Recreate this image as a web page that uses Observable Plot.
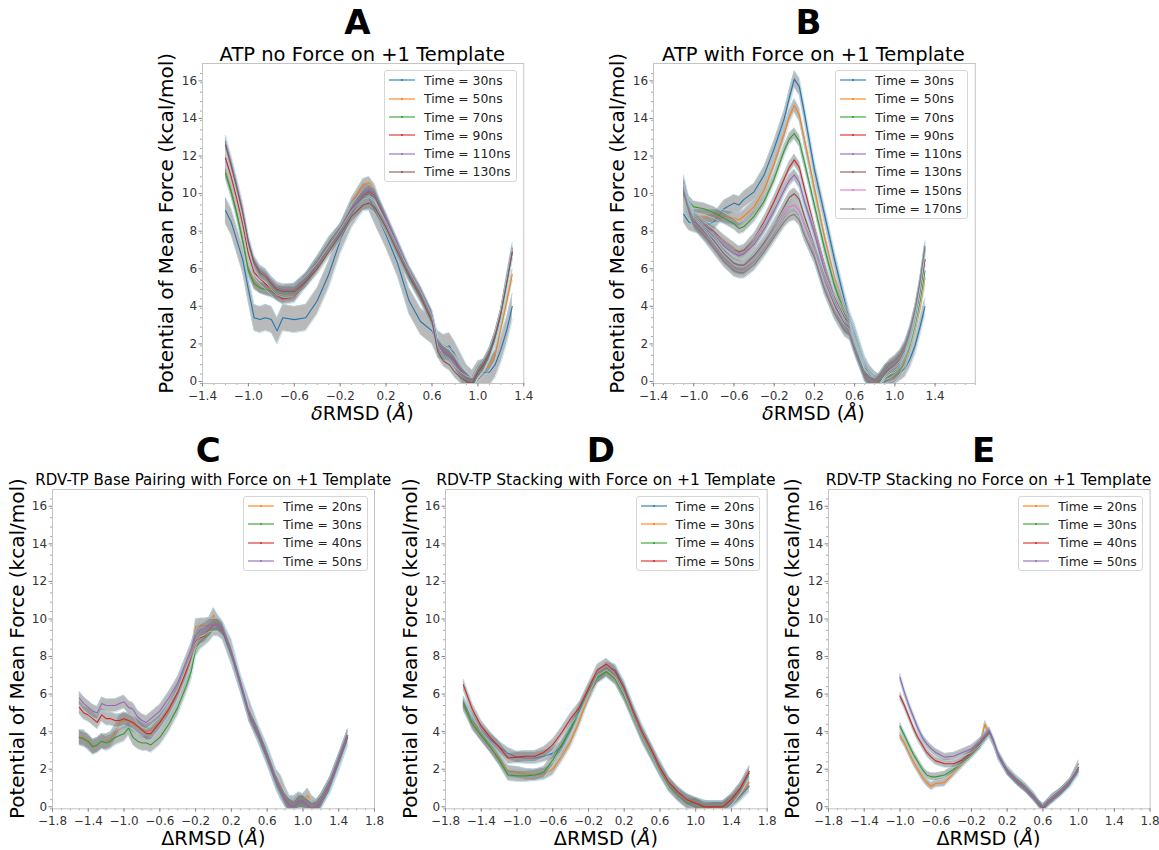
<!DOCTYPE html>
<html><head><meta charset="utf-8">
<script src="https://cdn.jsdelivr.net/npm/d3@7"></script>
<script src="https://cdn.jsdelivr.net/npm/@observablehq/plot@0.6"></script>
<style>
body{margin:0;background:#fff;}
#root{position:relative;width:1159px;height:850px;overflow:hidden;font-family:"DejaVu Sans",sans-serif;background:#fff;}
#root svg.plotsvg{position:absolute;background:transparent;overflow:visible;max-width:none;}
.legend{position:absolute;border:1px solid #d6d6d6;border-radius:3px;background:rgba(255,255,255,0.85);padding:0 5px 0 4px;font-size:12.4px;color:#222;z-index:3;}
.legend .row{display:flex;align-items:center;height:18.3px;white-space:nowrap;}
.legend svg{margin-right:9px;display:block;}
#overlay{position:absolute;left:0;top:0;z-index:4;pointer-events:none;}
</style></head>
<body><div id="root"></div>
<script>
// ---------------- data ----------------
const xTicksAB = [-1.4,-1.0,-0.6,-0.2,0.2,0.6,1.0,1.4];
const xTicksCDE = [-1.8,-1.4,-1.0,-0.6,-0.2,0.2,0.6,1.0,1.4,1.8];
const yTicks = [0,2,4,6,8,10,12,14,16];

// Panel A: ATP no Force
const xA = [-1.2,-1.15,-1.1,-1.05,-1.0,-0.95,-0.9,-0.85,-0.8,-0.75,-0.7,-0.6,-0.5,-0.4,-0.3,-0.2,-0.1,0.0,0.05,0.1,0.2,0.3,0.4,0.5,0.6,0.65,0.7,0.75,0.8,0.85,0.9,0.95,1.0,1.05,1.1,1.15,1.2,1.25,1.3];
const labelsA = ["Time = 30ns","Time = 50ns","Time = 70ns","Time = 90ns","Time = 110ns","Time = 130ns"];
const A30  = [9.2,8.6,7.6,6.6,5.0,3.5,3.4,3.5,3.4,2.8,3.5,3.4,3.5,4.4,5.8,7.6,9.0,9.9,9.9,9.2,7.9,6.4,4.4,3.3,2.8,2.1,1.9,2.0,1.5,0.9,0.3,0.0,0.5,0.6,0.6,1.0,1.8,2.8,4.1];
const A50  = [11.4,10.4,9.2,7.8,6.2,5.4,5.1,5.0,4.9,4.8,4.9,5.05,5.6,6.5,7.5,8.2,9.6,10.6,10.7,10.3,8.5,7.1,5.8,4.8,3.5,2.2,1.8,1.6,1.4,0.8,0.3,0.0,0.4,0.7,1.0,1.5,2.9,4.3,5.8];
const A70  = [11.2,10.2,9.0,7.6,6.0,5.3,5.1,5.0,4.9,4.7,4.6,4.7,5.5,6.4,7.3,8.2,9.3,10.0,10.1,9.9,8.6,7.2,5.8,4.7,3.5,2.0,1.7,1.5,1.2,0.7,0.3,0.0,0.6,0.9,1.5,2.3,3.5,5.2,7.0];
const A90  = [12.0,11.0,9.8,8.5,6.9,5.9,5.6,5.3,5.0,4.7,4.5,4.6,5.4,6.3,7.3,8.2,9.3,10.0,10.2,10.0,8.7,7.3,5.9,4.8,3.6,2.1,1.7,1.5,1.2,0.7,0.3,0.0,0.6,1.0,1.6,2.5,3.7,5.5,7.2];
const A110 = [12.9,11.8,10.6,9.3,7.6,6.5,6.0,5.8,5.4,5.1,5.0,5.0,5.6,6.4,7.3,8.1,9.2,10.1,10.3,10.1,8.8,7.4,6.0,4.9,3.6,2.1,1.7,1.5,1.1,0.6,0.3,0.0,0.6,1.0,1.6,2.5,3.7,5.3,7.0];
const A130 = [12.7,11.6,10.4,9.1,7.5,6.4,5.9,5.7,5.3,5.0,4.9,4.9,5.4,6.1,7.0,7.9,8.9,9.5,9.6,9.4,8.3,7.0,5.7,4.6,3.3,1.7,1.2,1.0,0.6,0.3,0.1,0.0,0.6,1.0,1.6,2.5,3.7,5.3,7.0];
const errA = [0.7,0.3,0.3,0.3,0.3,0.3];

// Panel B: ATP with Force
const xB = [-1.1,-1.05,-1.0,-0.9,-0.8,-0.7,-0.6,-0.55,-0.5,-0.4,-0.3,-0.2,-0.1,-0.05,0.0,0.05,0.1,0.2,0.3,0.4,0.5,0.55,0.6,0.7,0.75,0.8,0.85,0.9,0.95,1.0,1.05,1.1,1.15,1.2,1.25,1.3];
const labelsB = ["Time = 30ns","Time = 50ns","Time = 70ns","Time = 90ns","Time = 110ns","Time = 130ns","Time = 150ns","Time = 170ns"];
const B30  = [9.0,8.6,8.5,8.4,8.6,9.3,9.6,9.5,9.8,10.2,11.1,12.5,14.1,15.2,16.2,15.8,14.4,11.4,9.0,6.6,4.4,3.4,2.7,1.0,0.5,0.2,0.0,0.1,0.3,0.4,0.6,0.8,1.3,2.0,3.0,4.1];
const B50  = [9.8,9.1,8.9,8.9,8.9,8.9,8.8,8.7,8.9,9.4,10.3,11.7,13.3,14.2,14.8,14.3,13.0,10.4,7.8,5.6,3.9,3.3,2.5,0.9,0.4,0.1,0.0,0.2,0.3,0.4,0.7,1.1,1.9,2.8,4.0,5.6];
const B70  = [10.2,9.7,9.4,9.3,9.1,8.8,8.5,8.25,8.35,8.9,9.7,10.9,12.4,13.0,13.3,12.9,11.8,9.5,7.2,5.2,3.7,3.2,2.4,0.8,0.4,0.1,0.0,0.3,0.4,0.5,0.8,1.3,2.1,3.1,4.4,6.0];
const B90  = [10.2,9.3,8.9,8.4,8.1,7.6,7.2,7.0,7.1,7.7,8.6,9.7,10.9,11.5,11.9,11.5,10.4,8.3,6.3,4.6,3.5,3.1,2.2,0.7,0.3,0.0,0.1,0.5,0.6,0.8,1.1,1.6,2.4,3.5,4.9,6.6];
const B110 = [10.8,9.6,8.8,8.3,7.9,7.3,6.9,6.8,6.9,7.4,8.2,9.2,10.3,10.8,11.1,10.7,9.7,8.0,6.0,4.4,3.3,3.0,2.1,0.6,0.3,0.0,0.2,0.6,0.8,0.9,1.2,1.8,2.6,3.7,5.2,7.1];
const B130 = [10.5,9.4,8.7,8.1,7.6,6.9,6.4,6.3,6.3,6.8,7.5,8.4,9.4,9.9,10.1,9.8,8.9,7.3,5.6,4.2,3.1,2.9,2.0,0.5,0.2,0.0,0.2,0.6,0.8,1.0,1.3,1.8,2.5,3.5,4.9,6.6];
const B150 = [10.3,9.3,8.6,8.0,7.4,6.7,6.2,6.1,6.1,6.6,7.3,8.1,9.0,9.4,9.5,9.2,8.4,7.0,5.3,4.0,3.0,2.8,1.9,0.4,0.2,0.0,0.3,0.7,0.9,1.1,1.4,1.9,2.7,3.8,5.3,7.2];
const B170 = [10.2,9.2,8.5,7.9,7.2,6.5,6.0,5.9,5.9,6.3,7.0,7.8,8.6,8.9,9.0,8.7,7.9,6.7,5.0,3.7,2.8,2.6,1.8,0.4,0.1,0.0,0.3,0.7,1.0,1.2,1.5,2.0,2.8,3.9,5.4,7.3];
const errB = [0.45,0.35,0.3,0.3,0.3,0.3,0.3,0.3];

// Panel C: RDV-TP Base Pairing with Force
const xC = [-1.5,-1.45,-1.4,-1.35,-1.3,-1.25,-1.2,-1.15,-1.1,-1.05,-1.0,-0.95,-0.9,-0.85,-0.8,-0.75,-0.7,-0.6,-0.5,-0.4,-0.3,-0.25,-0.2,-0.15,-0.1,-0.05,0.0,0.05,0.1,0.2,0.3,0.4,0.5,0.6,0.7,0.75,0.8,0.85,0.9,0.95,1.0,1.05,1.1,1.15,1.2,1.3,1.4,1.5];
const labelsCDE = ["Time = 20ns","Time = 30ns","Time = 40ns","Time = 50ns"];
const C20 = [3.8,3.8,3.5,3.3,3.4,3.6,3.6,3.7,4.1,4.6,4.7,4.7,4.5,4.4,4.2,4.1,4.2,4.6,5.2,6.2,7.3,8.0,9.7,9.75,9.75,9.8,10.3,9.9,9.6,8.6,6.8,5.4,4.1,3.0,1.7,1.4,0.8,0.3,0.3,0.5,0.4,0.7,0.3,0.1,0.4,1.2,2.4,3.8];
const C30 = [3.8,3.7,3.6,3.3,3.4,3.6,3.5,3.6,3.8,3.9,4.0,4.3,3.8,3.6,3.5,3.5,3.4,3.8,4.5,5.4,6.6,7.3,8.5,8.9,9.1,9.3,9.6,9.6,9.4,8.1,6.6,5.0,3.9,2.7,1.4,0.9,0.5,0.2,0.1,0.3,0.3,0.1,0.0,0.0,0.4,1.3,2.5,3.8];
const C40 = [5.4,5.1,5.0,4.8,4.6,5.0,4.8,4.8,4.7,4.7,4.8,4.7,4.6,4.4,4.2,4.0,4.0,4.6,5.3,6.2,7.4,8.1,8.9,9.1,9.2,9.5,9.8,9.8,9.5,8.3,6.7,5.0,4.0,2.8,1.5,1.0,0.5,0.2,0.1,0.4,0.4,0.2,0.0,0.1,0.4,1.3,2.6,3.9];
const C50 = [5.9,5.6,5.4,5.2,5.1,5.6,5.5,5.5,5.5,5.6,5.7,5.4,5.3,4.9,4.7,4.6,4.8,5.2,5.9,6.7,7.9,8.5,9.2,9.5,9.6,9.8,9.8,9.8,9.6,8.3,6.7,5.0,4.0,2.8,1.5,1.0,0.5,0.2,0.1,0.4,0.4,0.2,0.0,0.1,0.4,1.3,2.6,3.9];
const errC = [0.4,0.4,0.35,0.35];

// Panel D: RDV-TP Stacking with Force
const xD = [-1.6,-1.5,-1.4,-1.3,-1.2,-1.1,-1.0,-0.9,-0.8,-0.7,-0.6,-0.5,-0.4,-0.3,-0.2,-0.1,0.0,0.1,0.2,0.3,0.4,0.5,0.6,0.7,0.8,0.9,1.0,1.1,1.2,1.3,1.4,1.5,1.6];
const D20 = [5.7,4.85,4.2,3.7,3.3,2.95,2.75,2.7,2.7,2.8,2.95,3.3,4.3,5.2,6.0,7.0,7.5,7.4,6.5,5.3,4.2,3.2,2.3,1.4,0.8,0.5,0.3,0.15,0.1,0.1,0.3,0.7,1.2];
const D30 = [5.5,4.6,3.9,3.3,2.7,2.0,1.95,1.85,1.8,1.85,2.1,2.8,3.6,4.7,6.0,7.0,7.35,7.0,6.1,5.0,3.9,3.0,2.1,1.3,0.8,0.4,0.3,0.1,0.1,0.1,0.4,0.8,1.4];
const D40 = [5.6,4.5,3.9,3.3,2.6,1.8,1.75,1.75,1.8,1.95,2.6,3.4,4.2,5.3,6.3,7.0,7.3,6.9,6.0,4.9,3.8,2.9,2.0,1.2,0.7,0.3,0.3,0.0,0.1,0.1,0.5,1.1,1.9];
const D50 = [6.6,5.3,4.4,3.8,3.3,2.7,2.75,2.8,2.8,3.0,3.4,4.05,4.8,5.4,6.4,7.4,7.7,7.3,6.4,5.2,4.1,3.2,2.2,1.4,0.9,0.5,0.3,0.1,0.1,0.1,0.5,1.1,2.0];
const errD = [0.3,0.3,0.3,0.3];

// Panel E: RDV-TP Stacking no Force
const xE = [-1.0,-0.95,-0.9,-0.85,-0.8,-0.75,-0.7,-0.65,-0.6,-0.5,-0.4,-0.3,-0.2,-0.1,-0.05,0.0,0.05,0.1,0.2,0.3,0.4,0.5,0.55,0.6,0.65,0.7,0.8,0.9,1.0];
const E20 = [3.9,3.5,3.0,2.5,2.1,1.7,1.4,1.2,1.35,1.4,1.9,2.4,2.9,3.4,4.5,4.0,3.5,2.9,2.1,1.6,1.2,0.7,0.3,0.0,0.3,0.6,0.9,1.4,2.4];
const E30 = [4.4,3.9,3.4,2.9,2.5,2.1,1.8,1.7,1.7,1.8,2.1,2.5,2.9,3.4,3.7,4.0,3.5,2.8,2.0,1.5,1.1,0.6,0.3,0.0,0.3,0.5,0.9,1.3,2.0];
const E40 = [6.0,5.5,4.9,4.3,3.8,3.4,3.0,2.75,2.55,2.4,2.4,2.6,3.0,3.5,3.8,4.1,3.5,2.8,2.0,1.5,1.1,0.6,0.3,0.0,0.3,0.5,0.9,1.4,2.2];
const E50 = [7.0,6.2,5.5,4.9,4.3,3.8,3.45,3.2,3.0,2.75,2.8,3.0,3.2,3.6,3.9,4.15,3.6,2.9,2.0,1.5,1.1,0.6,0.3,0.1,0.3,0.5,0.9,1.4,2.1];
const errE = [0.2,0.2,0.2,0.2];

// ---------------- layout / style ----------------
const tab = ["#1f77b4","#ff7f0e","#2ca02c","#d62728","#9467bd","#8c564b","#e377c2","#7f7f7f"];
const FONT = "DejaVu Sans";

const panels = [
  {letter:"A", title:"ATP no Force on +1 Template", titleSize:19.5, titleGap:2.5, letterGap:29.5, dSym:"δ", dItalic:true,
   left:201.7, right:523, top:63.3, bottom:383.3, xDomain:[-1.4,1.4], yMax:17.03, xTicks:xTicksAB,
   xs:xA, ys:[A30,A50,A70,A90,A110,A130], labels:labelsA, errs:errA, colors:tab.slice(0,6)},
  {letter:"B", title:"ATP with Force on +1 Template", titleSize:19.5, titleGap:2.5, letterGap:29.5, dSym:"δ", dItalic:true,
   left:652.5, right:974.3, top:63.3, bottom:383.3, xDomain:[-1.4,1.8], yMax:17.03, xTicks:xTicksAB,
   xs:xB, ys:[B30,B50,B70,B90,B110,B130,B150,B170], labels:labelsB, errs:errB, colors:tab.slice(0,8)},
  {letter:"C", title:"RDV-TP Base Pairing with Force on +1 Template", titleSize:15, titleGap:4.5, letterGap:27.5, dSym:"Δ", dItalic:false,
   left:52.3, right:374.3, top:489, bottom:808.3, xDomain:[-1.8,1.8], yMax:17.0, xTicks:xTicksCDE,
   xs:xC, ys:[C20,C30,C40,C50], labels:labelsCDE, errs:errC, colors:tab.slice(1,5)},
  {letter:"D", title:"RDV-TP Stacking with Force on +1 Template", titleSize:15.5, titleGap:4.5, letterGap:27.5, dSym:"Δ", dItalic:false,
   left:445, right:766.7, top:489, bottom:808.3, xDomain:[-1.8,1.8], yMax:17.0, xTicks:xTicksCDE,
   xs:xD, ys:[D20,D30,D40,D50], labels:labelsCDE, errs:errD, colors:tab.slice(0,4)},
  {letter:"E", title:"RDV-TP Stacking no Force on +1 Template", titleSize:15.5, titleGap:4.5, letterGap:27.5, dSym:"Δ", dItalic:false,
   left:827.7, right:1149.3, top:489, bottom:808.3, xDomain:[-1.8,1.8], yMax:17.0, xTicks:xTicksCDE,
   xs:xE, ys:[E20,E30,E40,E50], labels:labelsCDE, errs:errE, colors:tab.slice(1,5)}
];

const root = document.getElementById("root");
const fmtX = d3.format(".1f");
const fmtY = d3.format("d");
const NS = "http://www.w3.org/2000/svg";
const overlay = document.createElementNS(NS, "svg");
overlay.setAttribute("id","overlay");
overlay.setAttribute("width",1159); overlay.setAttribute("height",850);

function addText(txt, x, y, opts) {
  const t = document.createElementNS(NS, "text");
  t.setAttribute("x", x); t.setAttribute("y", y);
  t.setAttribute("text-anchor", "middle");
  t.setAttribute("font-family", FONT);
  t.setAttribute("font-size", opts.size);
  t.setAttribute("fill", opts.fill || "#000");
  if (opts.weight) t.setAttribute("font-weight", opts.weight);
  if (opts.transform) t.setAttribute("transform", opts.transform);
  if (Array.isArray(txt)) {
    for (const [s, it] of txt) {
      const sp = document.createElementNS(NS, "tspan");
      sp.textContent = s;
      if (it) sp.setAttribute("font-style", "italic");
      t.appendChild(sp);
    }
  } else t.textContent = txt;
  overlay.appendChild(t);
}

for (const p of panels) {
  const W = p.right - p.left, H = p.bottom - p.top;
  const ML = 40, MR = 6, MT = 6, MB = 26;
  const marks = [];
  p.ys.forEach((vals, si) => {
    const rows = p.xs.map((x, i) => ({x, y: vals[i], lo: vals[i] - p.errs[si], hi: vals[i] + p.errs[si]}));
    marks.push(Plot.areaY(rows, {x: "x", y1: "lo", y2: "hi", fill: "#808080", fillOpacity: 0.55, clip: true}));
    marks.push(Plot.line(rows, {x: "x", y: "lo", stroke: "#add8e6", strokeWidth: 0.8, strokeOpacity: 0.8, clip: true}));
    marks.push(Plot.line(rows, {x: "x", y: "hi", stroke: "#add8e6", strokeWidth: 0.8, strokeOpacity: 0.8, clip: true}));
    marks.push(Plot.line(rows, {x: "x", y: "y", stroke: p.colors[si], strokeWidth: 1.1, clip: true}));
  });
  // minor ticks (no text), drawn just outside the frame through the scales
  const minorX = d3.range(Math.ceil(p.xDomain[0] * 10 - 1e-6), Math.floor(p.xDomain[1] * 10 + 1e-6) + 1).map(k => k / 10);
  const minorY = d3.range(0, 34).map(k => k / 2);
  const dxUnits = (p.xDomain[1] - p.xDomain[0]) / W * 2;   // 2 px in x units
  const dyUnits = p.yMax / H * 2;                            // 2 px in y units
  marks.push(Plot.ruleX(minorX, {x: d => d, y1: 0, y2: -dyUnits, stroke: "#aaa"}));
  marks.push(Plot.ruleY(minorY, {y: d => d, x1: p.xDomain[0], x2: p.xDomain[0] - dxUnits, stroke: "#aaa"}));
  marks.push(Plot.frame({stroke: "#c4c4c4"}));
  marks.push(Plot.axisX({ticks: p.xTicks, tickSize: 3.5, tickPadding: 4, tickFormat: fmtX, stroke: "#888", fill: "#333", fontSize: 12, label: null}));
  marks.push(Plot.axisY({ticks: yTicks, tickSize: 3.5, tickPadding: 2, tickFormat: fmtY, stroke: "#888", fill: "#333", fontSize: 12, dy: -2, label: null}));
  const svg = Plot.plot({
    width: W + ML + MR, height: H + MT + MB,
    marginLeft: ML, marginRight: MR, marginTop: MT, marginBottom: MB,
    x: {domain: p.xDomain, label: null},
    y: {domain: [0, p.yMax], label: null},
    style: {fontFamily: FONT, fontSize: "12px", background: "transparent", overflow: "visible"},
    marks
  });
  svg.classList.add("plotsvg");
  svg.style.left = (p.left - ML) + "px";
  svg.style.top = (p.top - MT) + "px";
  root.appendChild(svg);

  // legend
  const lg = document.createElement("div");
  lg.className = "legend";
  lg.style.right = (1159 - (p.right - 6.5)) + "px";
  lg.style.top = (p.top + 7) + "px";
  p.labels.forEach((lab, i) => {
    const row = document.createElement("div");
    row.className = "row";
    row.innerHTML = `<svg width="26" height="8"><line x1="0" y1="4" x2="26" y2="4" stroke="${p.colors[i]}" stroke-width="1.8" stroke-opacity="0.6"/><circle cx="13" cy="4" r="1" fill="${p.colors[i]}"/></svg>`;
    const sp = document.createElement("span");
    sp.textContent = lab;
    row.appendChild(sp);
    lg.appendChild(row);
  });
  root.appendChild(lg);

  // texts
  const cx = (p.left + p.right) / 2, cy = (p.top + p.bottom) / 2;
  addText(p.letter, cx - 5, p.top - p.letterGap, {size: 34, weight: "bold"});
  addText(p.title, cx, p.top - p.titleGap, {size: p.titleSize});
  addText([[p.dSym, p.dItalic], ["RMSD (", false], ["Å", true], [")", false]], cx, p.bottom + 37.1, {size: 19.2});
  addText("Potential of Mean Force (kcal/mol)", 0, 0, {size: 20, transform: `translate(${p.left - 28.5},${cy}) rotate(-90)`});
}
root.appendChild(overlay);
</script>
</body></html>
